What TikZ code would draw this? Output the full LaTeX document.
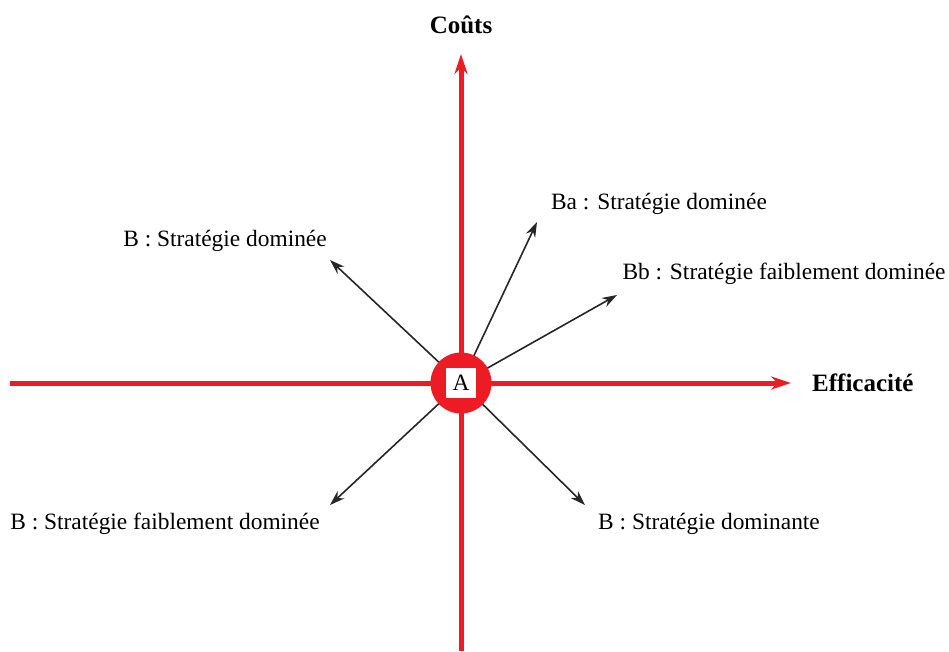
\documentclass[tikz,border=0pt]{standalone}
\usepackage{fontspec}
\setmainfont{Liberation Serif}
\usetikzlibrary{arrows.meta}
\definecolor{axisred}{HTML}{ED1C24}
\begin{document}
\begin{tikzpicture}[x=1pt,y=-1pt,
  axis/.style={draw=axisred,line width=5pt,-{Stealth[length=20pt,width=13pt]}},
  strat/.style={draw=black!85,line width=1.6pt,-{Stealth[length=15pt,width=10pt]}},
  lbl/.style={font=\fontsize{23.4}{28}\selectfont,inner sep=0pt},
  axlbl/.style={font=\fontsize{25}{30}\selectfont\bfseries,inner sep=0pt}]
\useasboundingbox (0,0) rectangle (949,651);
\coordinate (O) at (461,383);
\coordinate (xs) at (10,383);
\coordinate (xe) at (791,383);
\coordinate (ys) at (461,651);
\coordinate (ye) at (461,54);
\coordinate (t1) at (330,260);
\coordinate (t2) at (537,222);
\coordinate (t3) at (617,295);
\coordinate (t4) at (330,505);
\coordinate (t5) at (585,505);
% strategy arrows
\draw[strat] (O) -- (t1);
\draw[strat] (O) -- (t2);
\draw[strat] (O) -- (t3);
\draw[strat] (O) -- (t4);
\draw[strat] (O) -- (t5);
% axes
\draw[axis] (xs) -- (xe);
\draw[axis] (ys) -- (ye);
% center
\fill[axisred] (O) circle (30.5);
\node[fill=white,minimum size=30pt,inner sep=0pt,lbl] (A) at (O) {A};
% labels
\node[axlbl] (couts) at (461,25) {Coûts};
\node[axlbl,anchor=west] (eff) at (812,383) {Efficacité};
\node[lbl] (l1) at (225,241) {B : Stratégie dominée};
\node[lbl] (l2) at (659,204) {Ba : Stratégie dominée};
\node[lbl] (l3) at (784,274) {Bb : Stratégie faiblement dominée};
\node[lbl] (l4) at (165,524) {B : Stratégie faiblement dominée};
\node[lbl] (l5) at (709,524) {B : Stratégie dominante};
\end{tikzpicture}
\end{document}
